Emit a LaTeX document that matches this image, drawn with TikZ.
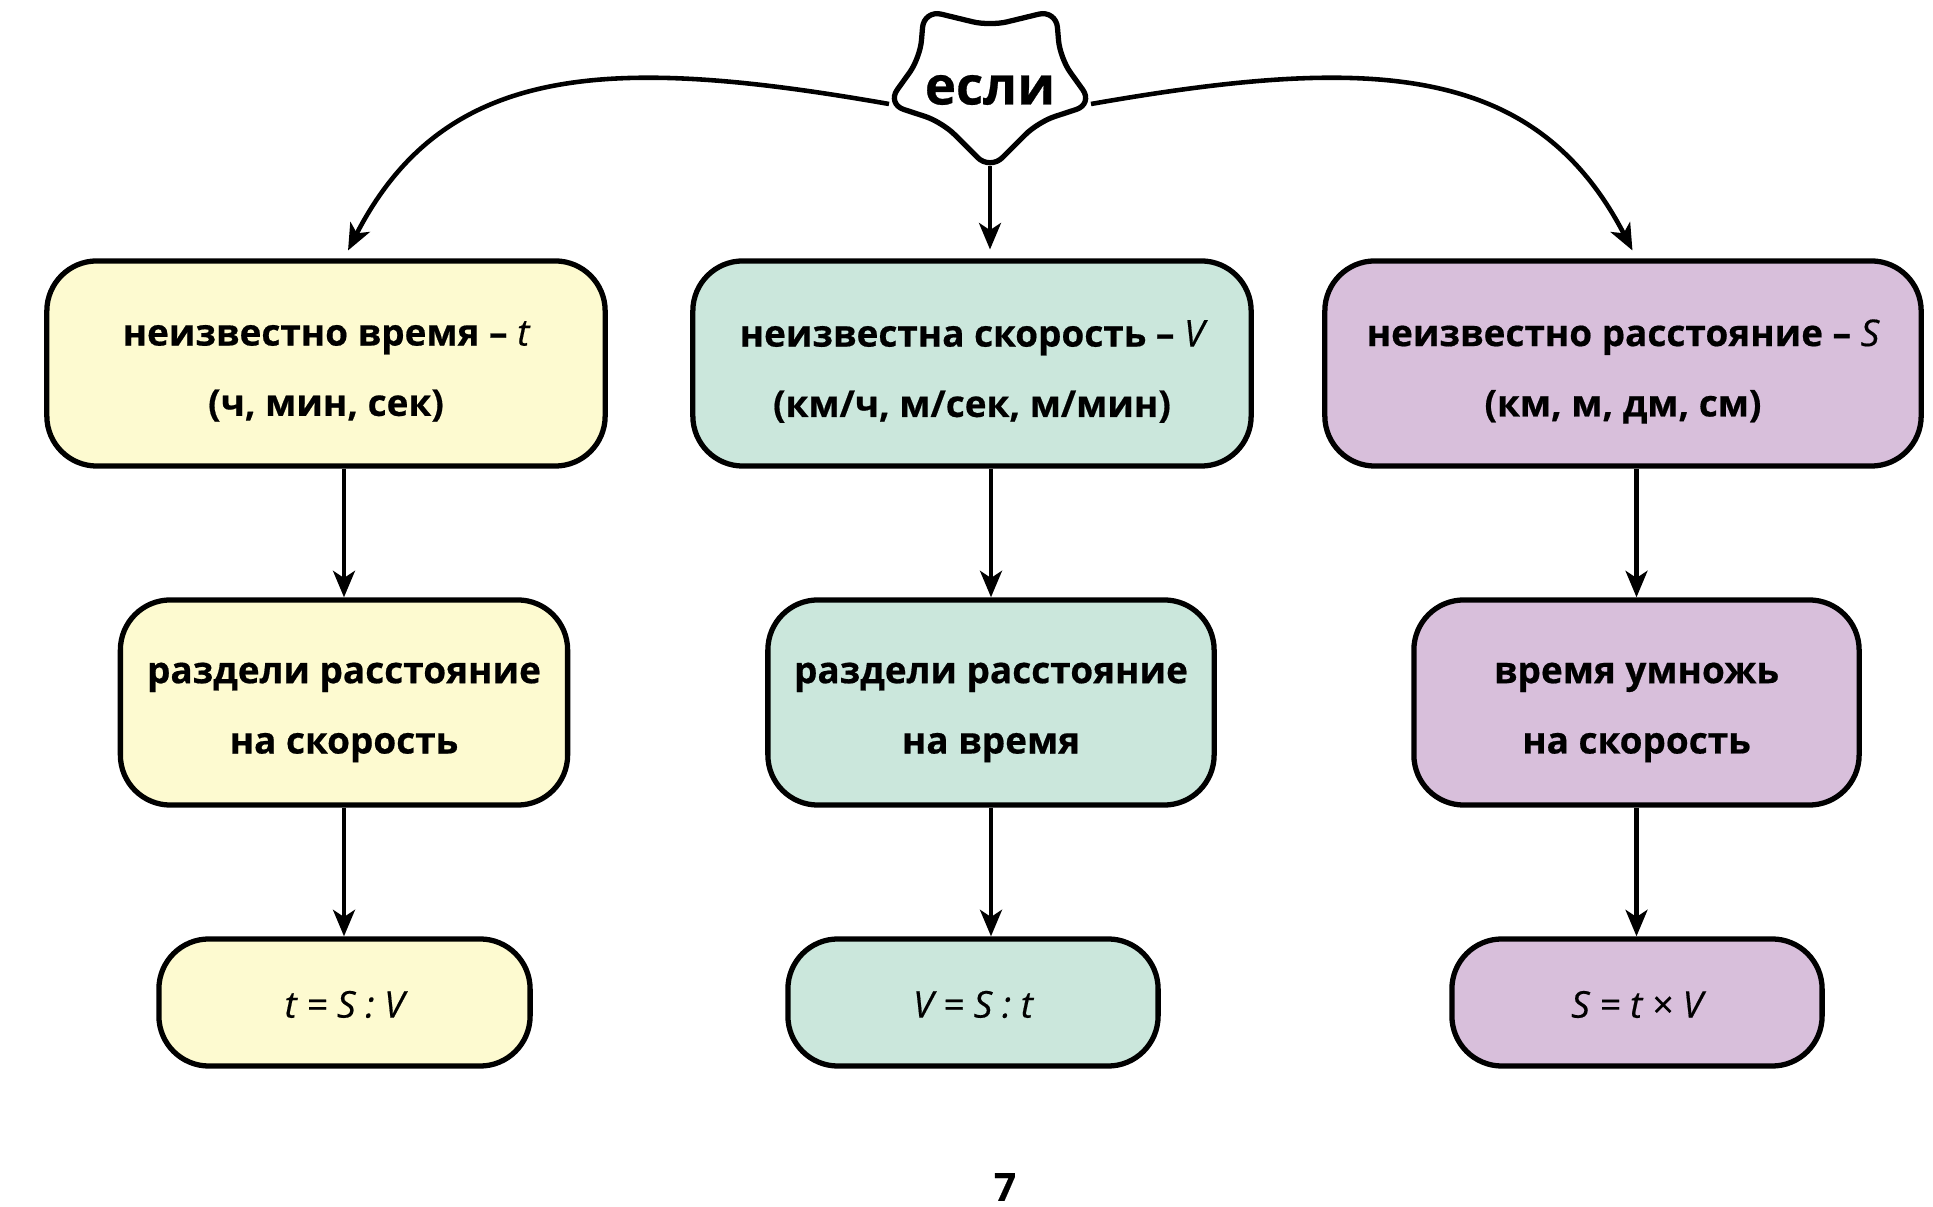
\documentclass[tikz,border=0pt]{standalone}
\usepackage{fontspec}
\setmainfont{Open Sans}[BoldFeatures={FakeBold=0.5},ItalicFeatures={FakeBold=0.4}]
\usetikzlibrary{arrows.meta,calc}
\definecolor{yel}{RGB}{253,250,208}
\definecolor{grn}{RGB}{203,231,220}
\definecolor{pur}{RGB}{216,191,219}
\begin{document}
\begin{tikzpicture}[x=0.01cm,y=-0.01cm,
  box/.style={draw=black, line width=1.5pt, rounded corners=0.5cm, inner sep=0pt},
  txt/.style={align=center, inner sep=0pt, font=\fontsize{10.5}{20}\selectfont\bfseries},
  ftxt/.style={inner sep=0pt, font=\fontsize{10.5}{20}\selectfont\itshape},
  arr/.style={line width=1.3pt, -{Stealth[length=7.5pt,width=6.2pt,inset=2pt]}},
  starline/.style={line width=1.5pt, fill=white, rounded corners=5pt},
]
\useasboundingbox (0,0) rectangle (1933,1207);

% row 1
\node[box, fill=yel, minimum width=5.58cm, minimum height=2.05cm] (L1) at (326,363.5) {};
\node[txt] (L1t) at ($(L1)+(0,8)$) {неизвестно время – {\mdseries\itshape t}\\(ч, мин, сек)};
\node[box, fill=grn, minimum width=5.58cm, minimum height=2.05cm] (M1) at (972,363.5) {};
\node[txt] (M1t) at ($(M1)+(0,8)$) {неизвестна скорость – {\mdseries\itshape V}\\(км/ч, м/сек, м/мин)};
\node[box, fill=pur, minimum width=5.96cm, minimum height=2.05cm] (R1) at (1623,363.5) {};
\node[txt] (R1t) at ($(R1)+(0,8)$) {неизвестно расстояние – {\mdseries\itshape S}\\(км, м, дм, см)};

% row 2
\node[box, fill=yel, minimum width=4.47cm, minimum height=2.05cm] (L2) at (344,702.5) {};
\node[txt] (L2t) at ($(L2)+(0,10)$) {раздели расстояние\\на скорость};
\node[box, fill=grn, minimum width=4.46cm, minimum height=2.05cm] (M2) at (991,702.5) {};
\node[txt] (M2t) at ($(M2)+(0,10)$) {раздели расстояние\\на время};
\node[box, fill=pur, minimum width=4.45cm, minimum height=2.05cm] (R2) at (1636.5,702.5) {};
\node[txt] (R2t) at ($(R2)+(0,10)$) {время умножь\\на скорость};

% row 3
\node[box, fill=yel, minimum width=3.71cm, minimum height=1.27cm] (L3) at (344.5,1002.5) {};
\node[ftxt] (L3t) at ($(L3)+(0,2)$) {t = S : V};
\node[box, fill=grn, minimum width=3.70cm, minimum height=1.27cm] (M3) at (973,1002.5) {};
\node[ftxt] (M3t) at ($(M3)+(0,2)$) {V = S : t};
\node[box, fill=pur, minimum width=3.70cm, minimum height=1.27cm] (R3) at (1637,1002.5) {};
\node[ftxt] (R3t) at ($(R3)+(0,2)$) {S = t × V};

% star
\draw[starline] (924,10) -- (990,26) -- (1056,10) -- (1060,58) -- (1093,104) -- (1038,122)
  -- (990,170) -- (942,122) -- (887,104) -- (920,58) -- cycle;
\coordinate (sL) at (889,104);
\coordinate (sR) at (1091,104);
\coordinate (sB) at (990,166);
\node[font=\fontsize{15}{18}\selectfont\bfseries, inner sep=0pt] (esli) at (990,90) {если};

% connectors from star
\draw[arr, shorten >=2.5pt] (sL) .. controls (610,55) and (445,62) .. (L2.north |- L1.north);
\draw[arr, shorten >=2.5pt] (sR) .. controls (1370,55) and (1535,62) .. (R2.north |- R1.north);
\draw[arr, shorten >=2.5pt] (sB) -- (sB |- M1.north);

% vertical connectors
\draw[arr] (L2.north |- L1.south) -- (L2.north);
\draw[arr] (L2.south) -- (L2.south |- L3.north);
\draw[arr] (M2.north |- M1.south) -- (M2.north);
\draw[arr] (M2.south) -- (M2.south |- M3.north);
\draw[arr] (R2.north |- R1.south) -- (R2.north);
\draw[arr] (R2.south) -- (R2.south |- R3.north);

% page number
\node[font=\fontsize{11}{13}\selectfont\bfseries, inner sep=0pt] (pg) at (1005,1187) {7};
\end{tikzpicture}
\end{document}
